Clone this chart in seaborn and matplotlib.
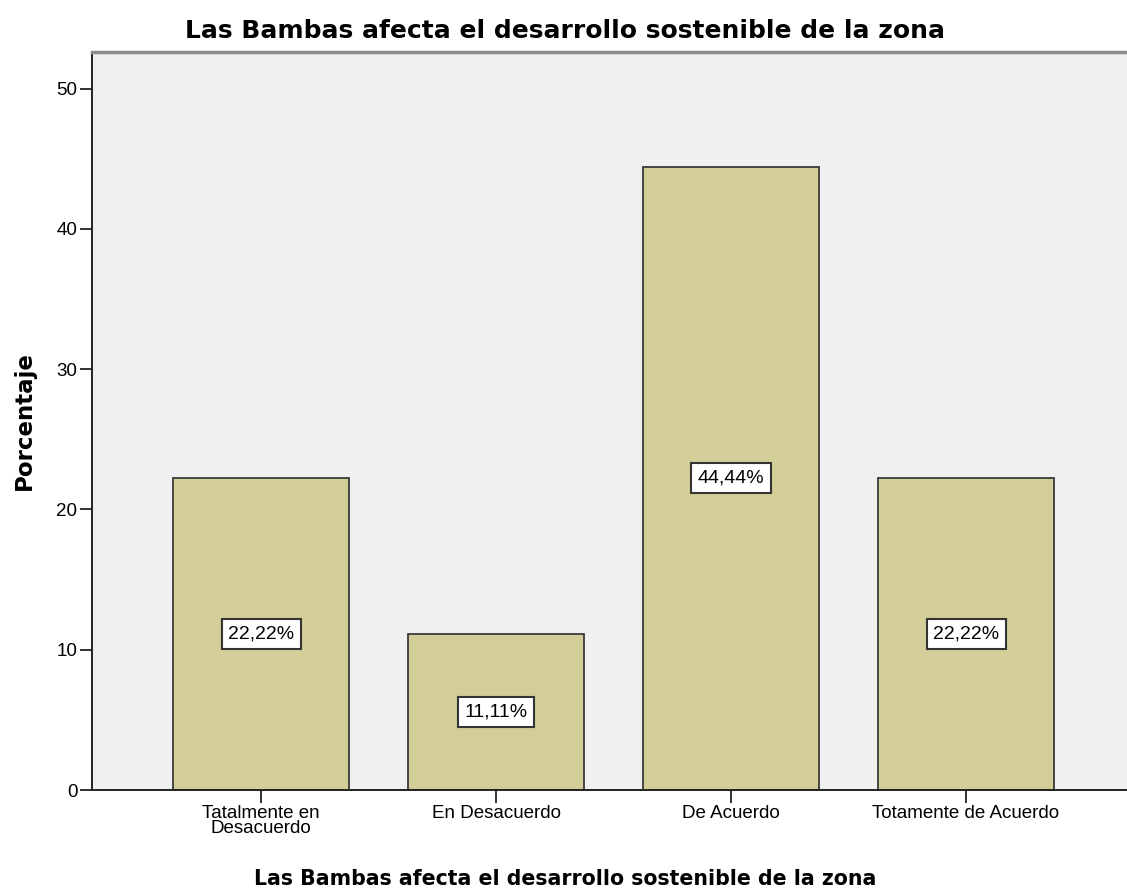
import pandas as pd
import matplotlib
matplotlib.use('Agg')
import matplotlib.pyplot as plt
import seaborn as sns

# Data
categories = ['Tatalmente en\nDesacuerdo', 'En Desacuerdo', 'De Acuerdo', 'Totamente de Acuerdo']
percentages = [22.22, 11.11, 44.44, 22.22]
bar_labels = ['22,22%', '11,11%', '44,44%', '22,22%']
title = 'Las Bambas afecta el desarrollo sostenible de la zona'

df = pd.DataFrame({'categoria': categories, 'porcentaje': percentages})

sns.set_style('white')
plt.rcParams['font.family'] = ['Liberation Sans', 'DejaVu Sans']
plt.rcParams['text.color'] = 'black'

fig = plt.figure(figsize=(11.27, 8.94), dpi=100)
ax = fig.add_axes([0.0816, 0.1163, 0.9184, 0.8255])
ax.set_facecolor('#F0F0F0')

sns.barplot(data=df, x='categoria', y='porcentaje', color='#D3CE97',
            saturation=1, width=0.75, edgecolor='#3a3a3a', linewidth=1.3, ax=ax)

# value labels in white boxes at the middle of each bar
for i, (val, lab) in enumerate(zip(percentages, bar_labels)):
    ax.text(i, val / 2, lab, ha='center', va='center', fontsize=14, color='black',
            bbox=dict(boxstyle='square,pad=0.33', fc='white', ec='#333333', lw=1.5))

ax.set_xlim(-0.72, 3.685)
ax.set_ylim(0, 52.6)
ax.set_yticks([0, 10, 20, 30, 40, 50])

bold = dict(family='DejaVu Sans', fontweight='bold', color='black')
fig.text(0.5015, 0.965, title, ha='center', va='center', fontsize=18, **bold)
fig.text(0.5015, 0.017, title, ha='center', va='center', fontsize=14.8, **bold)
ax.set_xlabel('')
ax.set_ylabel('Porcentaje', fontsize=16.5, labelpad=15, **bold)

ax.tick_params(axis='x', bottom=True, length=9, width=1.3, color='#222222',
               labelsize=13.5, labelcolor='black', pad=2)
ax.tick_params(axis='y', left=True, length=8.5, width=1.3, color='#222222',
               labelsize=13.5, labelcolor='black', pad=2)
for lab in ax.get_xticklabels():
    lab.set_linespacing(0.85)

for side in ['left', 'bottom']:
    ax.spines[side].set_color('#222222')
    ax.spines[side].set_linewidth(1.4)
ax.spines['top'].set_color('#8c8c8c')
ax.spines['top'].set_linewidth(2.5)
ax.spines['right'].set_visible(False)

fig.savefig('out.png', dpi=100)
